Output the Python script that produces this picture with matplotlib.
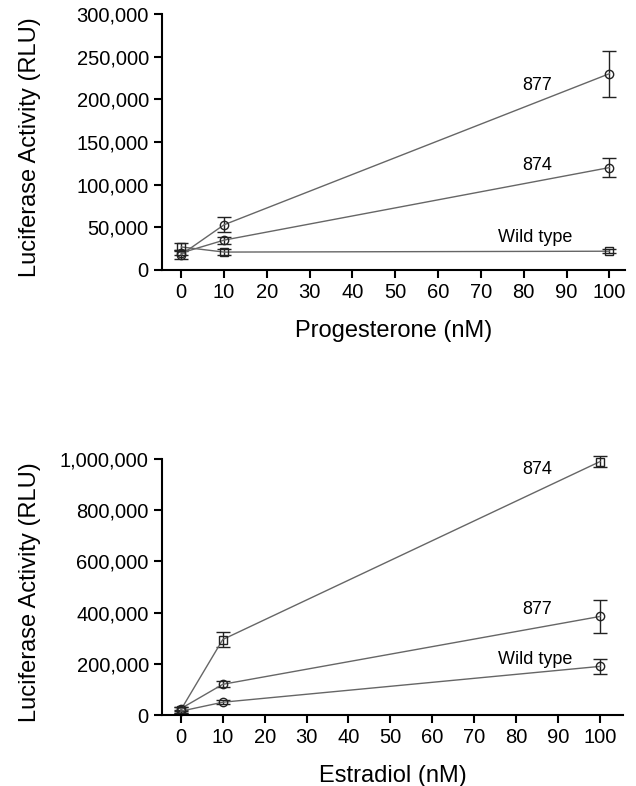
import matplotlib
matplotlib.use("Agg")
import matplotlib.pyplot as plt
from matplotlib.ticker import FuncFormatter

plt.rcParams['font.family'] = ['Liberation Sans', 'DejaVu Sans']

dose = [0, 10, 100]

# progesterone panel
p_877 = [18000, 53000, 230000]
p_877_err = [5000, 9000, 27000]
p_874 = [20000, 35000, 120000]
p_874_err = [3000, 4000, 11000]
p_wt = [27000, 21000, 22000]
p_wt_err = [5000, 4000, 2500]

# estradiol panel
e_874 = [20000, 295000, 990000]
e_874_err = [12000, 30000, 20000]
e_877 = [25000, 120000, 385000]
e_877_err = [8000, 12000, 65000]
e_wt = [15000, 50000, 190000]
e_wt_err = [6000, 8000, 30000]

xticks = list(range(0, 101, 10))

fmt = FuncFormatter(lambda v, p: '{:,.0f}'.format(v))


def series(ax, y, err, marker):
    ax.errorbar(dose, y, yerr=err, color='#666666', lw=1.0, ecolor='#222222',
                elinewidth=1.0, capsize=5, marker=marker, ms=6, mfc='none',
                mec='#222222', mew=1.0, clip_on=False)


def style(ax, ymax, ystep, xlabel, xright):
    for s in ['top', 'right']:
        ax.spines[s].set_visible(False)
    ax.spines['left'].set_linewidth(1.5)
    ax.spines['bottom'].set_linewidth(1.5)
    ax.set_xlim(-4.5, xright)
    ax.set_ylim(0, ymax)
    ax.set_xticks(xticks)
    ax.set_yticks(range(0, ymax + 1, ystep))
    ax.yaxis.set_major_formatter(fmt)
    ax.tick_params(direction='out', length=6, width=1.5, labelsize=14.5)
    ax.set_xlabel(xlabel, fontsize=17)
    ax.set_ylabel('Luciferase Activity (RLU)', fontsize=17)
    ax.xaxis.set_label_coords(0.5, -0.197)
    ax.yaxis.set_label_coords(-0.262, 0.48)


fig = plt.figure(figsize=(6.36, 7.86), dpi=100)

ax1 = fig.add_axes([0.2547, 0.6565, 0.7283, 0.3257])
series(ax1, p_877, p_877_err, 'o')
series(ax1, p_874, p_874_err, 'o')
series(ax1, p_wt, p_wt_err, 's')
style(ax1, 300000, 50000, 'Progesterone (nM)', 103.7)
ax1.text(79.6, 216600, '877', fontsize=13, va='center')
ax1.text(79.6, 123000, '874', fontsize=13, va='center')
ax1.text(74, 38600, 'Wild type', fontsize=13, va='center')

ax2 = fig.add_axes([0.2547, 0.0903, 0.7249, 0.3257])
series(ax2, e_874, e_874_err, 's')
series(ax2, e_877, e_877_err, 'o')
series(ax2, e_wt, e_wt_err, 'o')
style(ax2, 1000000, 200000, 'Estradiol (nM)', 105.5)
ax2.text(81.4, 961000, '874', fontsize=13, va='center')
ax2.text(81.4, 414000, '877', fontsize=13, va='center')
ax2.text(75.7, 215000, 'Wild type', fontsize=13, va='center')

fig.savefig('out.png', dpi=100)
